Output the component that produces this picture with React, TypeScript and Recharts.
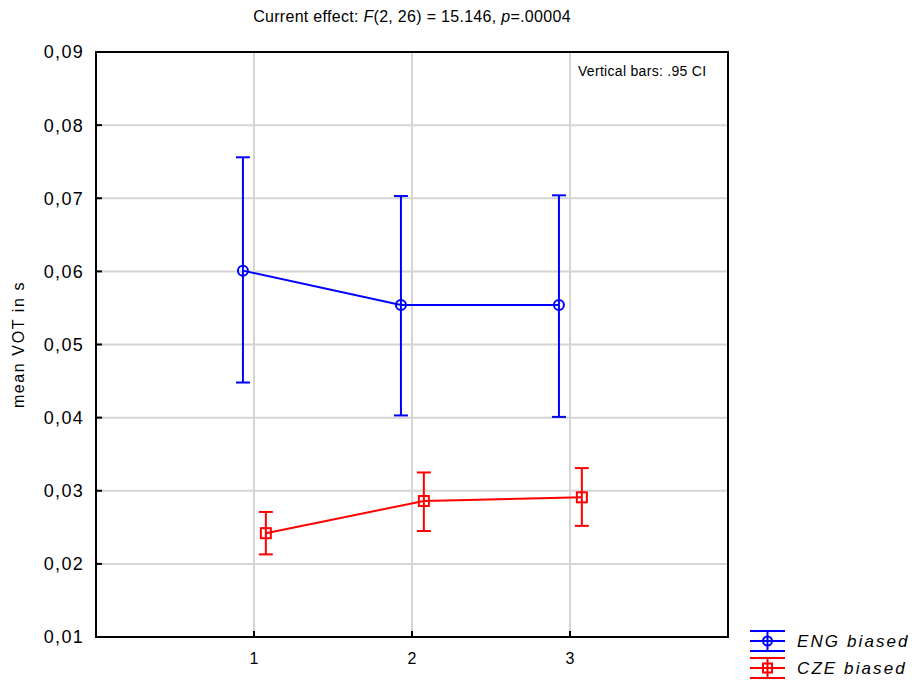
import {
  ComposedChart,
  Scatter,
  ErrorBar,
  XAxis,
  YAxis,
  CartesianGrid,
  ReferenceArea,
} from "recharts";

const categories = [1, 2, 3];
const engMean = [0.0601, 0.0554, 0.0554];
const engLow = [0.0448, 0.0403, 0.0401];
const engHigh = [0.0756, 0.0703, 0.0704];
const czeMean = [0.0242, 0.0286, 0.0291];
const czeLow = [0.0213, 0.0245, 0.0252];
const czeHigh = [0.0271, 0.0325, 0.0331];
const yTicks = [0.01, 0.02, 0.03, 0.04, 0.05, 0.06, 0.07, 0.08, 0.09];

const FONT = '"Liberation Sans", Arial, sans-serif';
const BLUE = "#0000ff";
const RED = "#ff0000";

// small horizontal shift so the two groups don't overlap
const build = (mean: number[], low: number[], high: number[], shift: number) =>
  categories.map((c, i) => ({
    x: c + shift,
    y: mean[i],
    err: [mean[i] - low[i], high[i] - mean[i]],
  }));

const engData = build(engMean, engLow, engHigh, -0.07);
const czeData = build(czeMean, czeLow, czeHigh, 0.075);

const Circle = (props: any) => (
  <circle cx={props.cx} cy={props.cy} r={5} fill="none" stroke={BLUE} strokeWidth={2} />
);
const Square = (props: any) => (
  <rect x={props.cx - 5} y={props.cy - 5} width={10} height={10} fill="none" stroke={RED} strokeWidth={2} />
);

const fmt = (v: number) => v.toFixed(2).replace(".", ",");

function LegendBox() {
  const item = (y: number, color: string, label: string, square: boolean) => (
    <g>
      <line x1={10} x2={45} y1={y - 10} y2={y - 10} stroke={color} strokeWidth={2} />
      <line x1={10} x2={45} y1={y} y2={y} stroke={color} strokeWidth={2} />
      <line x1={10} x2={45} y1={y + 10} y2={y + 10} stroke={color} strokeWidth={2} />
      <line x1={27.5} x2={27.5} y1={y - 10} y2={y + 10} stroke={color} strokeWidth={2} />
      {square ? (
        <rect x={23} y={y - 4.5} width={9} height={9} fill="none" stroke={color} strokeWidth={2} />
      ) : (
        <circle cx={27.5} cy={y} r={4.5} fill="none" stroke={color} strokeWidth={2} />
      )}
      <text x={57} y={y + 6} fontSize={17} fontStyle="italic" letterSpacing={2.1} fill="#000" fontFamily={FONT}>
        {label}
      </text>
    </g>
  );
  return (
    <svg width={172} height={60} style={{ position: "absolute", left: 740, top: 620 }}>
      {item(21, BLUE, "ENG biased", false)}
      {item(48, RED, "CZE biased", true)}
    </svg>
  );
}

export default function App() {
  return (
    <div style={{ position: "absolute", left: 0, top: 0, width: 912, height: 680, background: "#fff", fontFamily: FONT }}>
      <div
        style={{
          position: "absolute",
          left: 96,
          width: 632,
          top: 8,
          textAlign: "center",
          fontSize: 16,
          letterSpacing: 0.3,
          color: "#000",
        }}
      >
        Current effect: <i>F</i>(2, 26) = 15.146, <i>p</i>=.00004
      </div>
      <ComposedChart width={912} height={680} margin={{ top: 52, right: 184, left: 6, bottom: 13 }}>
        <CartesianGrid stroke="#d4d4d4" strokeWidth={2} />
        <XAxis
          type="number"
          dataKey="x"
          domain={[0, 4]}
          ticks={categories}
          allowDataOverflow
          height={30}
          tickSize={-6}
          axisLine={{ stroke: "#000", strokeWidth: 2 }}
          tickLine={{ stroke: "#000", strokeWidth: 2 }}
          tick={{ fill: "#000", fontSize: 16, fontFamily: FONT, dy: 20 }}
        />
        <YAxis
          type="number"
          dataKey="y"
          domain={[0.01, 0.09]}
          ticks={yTicks}
          allowDataOverflow
          width={90}
          tickSize={-6}
          tickFormatter={fmt}
          axisLine={{ stroke: "#000", strokeWidth: 2 }}
          tickLine={{ stroke: "#000", strokeWidth: 2 }}
          tick={{ fill: "#000", fontSize: 18, fontFamily: FONT, letterSpacing: 1.3, dx: -16 }}
          label={{
            value: "mean VOT in s",
            angle: -90,
            position: "center",
            dx: -33,
            fill: "#000",
            fontSize: 16,
            fontFamily: FONT,
            letterSpacing: 1.6,
          }}
        />
        <ReferenceArea x1={0} x2={4} y1={0.01} y2={0.09} fill="none" stroke="#000" strokeWidth={2} />
        <Scatter
          data={engData}
          isAnimationActive={false}
          line={{ stroke: BLUE, strokeWidth: 2 }}
          shape={Circle}
        >
          <ErrorBar dataKey="err" direction="y" width={7} stroke={BLUE} strokeWidth={2} isAnimationActive={false} />
        </Scatter>
        <Scatter
          data={czeData}
          isAnimationActive={false}
          line={{ stroke: RED, strokeWidth: 2 }}
          shape={Square}
        >
          <ErrorBar dataKey="err" direction="y" width={7} stroke={RED} strokeWidth={2} isAnimationActive={false} />
        </Scatter>
      </ComposedChart>
      <div
        style={{
          position: "absolute",
          left: 578,
          top: 63,
          fontSize: 14,
          letterSpacing: 0.3,
          color: "#000",
        }}
      >
        Vertical bars: .95 CI
      </div>
      <LegendBox />
    </div>
  );
}
